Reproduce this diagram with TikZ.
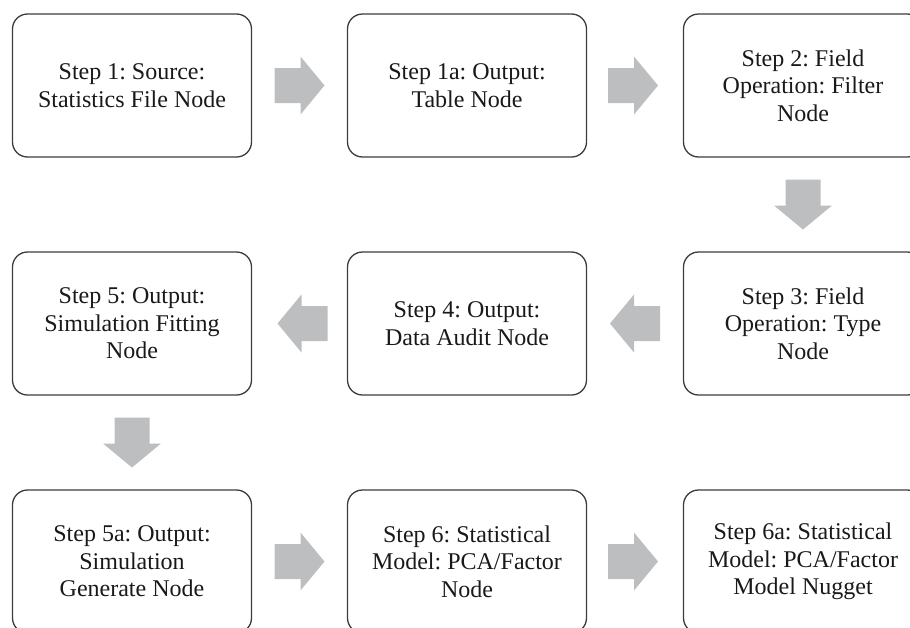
\documentclass[tikz,border=0pt]{standalone}
\usepackage{fontspec}
\setmainfont{Liberation Serif}
\usetikzlibrary{calc}
\definecolor{boxline}{HTML}{3C3C3C}
\definecolor{arrowgray}{HTML}{BDBEC0}
\begin{document}
\frenchspacing
\begin{tikzpicture}[x=1pt,y=-1pt,
 stepbox/.style={draw=boxline, line width=1.3pt, rounded corners=15pt, minimum width=239pt, minimum height=143pt, inner sep=0pt, align=center, font=\fontsize{24}{27.5}\selectfont, text=black!90},
 barrow/.pic={\fill[arrowgray] (-25,-17.5) -- (1,-17.5) -- (1,-29) -- (25,0) -- (1,29) -- (1,17.5) -- (-25,17.5) -- cycle;}]
\useasboundingbox (0,0) rectangle (910,627);
\clip (0,0) rectangle (910,627);
\node[stepbox] (s1) at (132,85.5) {Step 1: Source:\\Statistics File Node};
\node[stepbox] (s1a) at (467,85.5) {Step 1a: Output:\\Table Node};
\node[stepbox] (s2) at (803,85.5) {Step 2: Field\\Operation: Filter\\Node};
\node[stepbox] (s3) at (803,323.5) {Step 3: Field\\Operation: Type\\Node};
\node[stepbox] (s4) at (467,323.5) {Step 4: Output:\\Data Audit Node};
\node[stepbox] (s5) at (132,323.5) {Step 5: Output:\\Simulation Fitting\\Node};
\node[stepbox] (s5a) at (132,561.5) {Step 5a: Output:\\Simulation\\Generate Node};
\node[stepbox] (s6) at (467,561.5) {Step 6: Statistical\\Model: PCA/Factor\\Node};
\node[stepbox] (s6a) at (803,561.5) {Step 6a: Statistical\\Model: PCA/Factor\\Model Nugget};
\pic at ($(s1.east)!0.5!(s1a.west)$) {barrow};
\pic at ($(s1a.east)!0.5!(s2.west)+(-2,0)$) {barrow};
\pic[rotate=-90] at ($(s2.south)!0.5!(s3.north)$) {barrow};
\pic[rotate=180] at ($(s3.west)!0.5!(s4.east)$) {barrow};
\pic[rotate=180] at ($(s4.west)!0.5!(s5.east)+(3,0)$) {barrow};
\pic[rotate=-90] at ($(s5.south)!0.5!(s5a.north)$) {barrow};
\pic at ($(s5a.east)!0.5!(s6.west)$) {barrow};
\pic at ($(s6.east)!0.5!(s6a.west)+(-2,0)$) {barrow};
\end{tikzpicture}
\end{document}
